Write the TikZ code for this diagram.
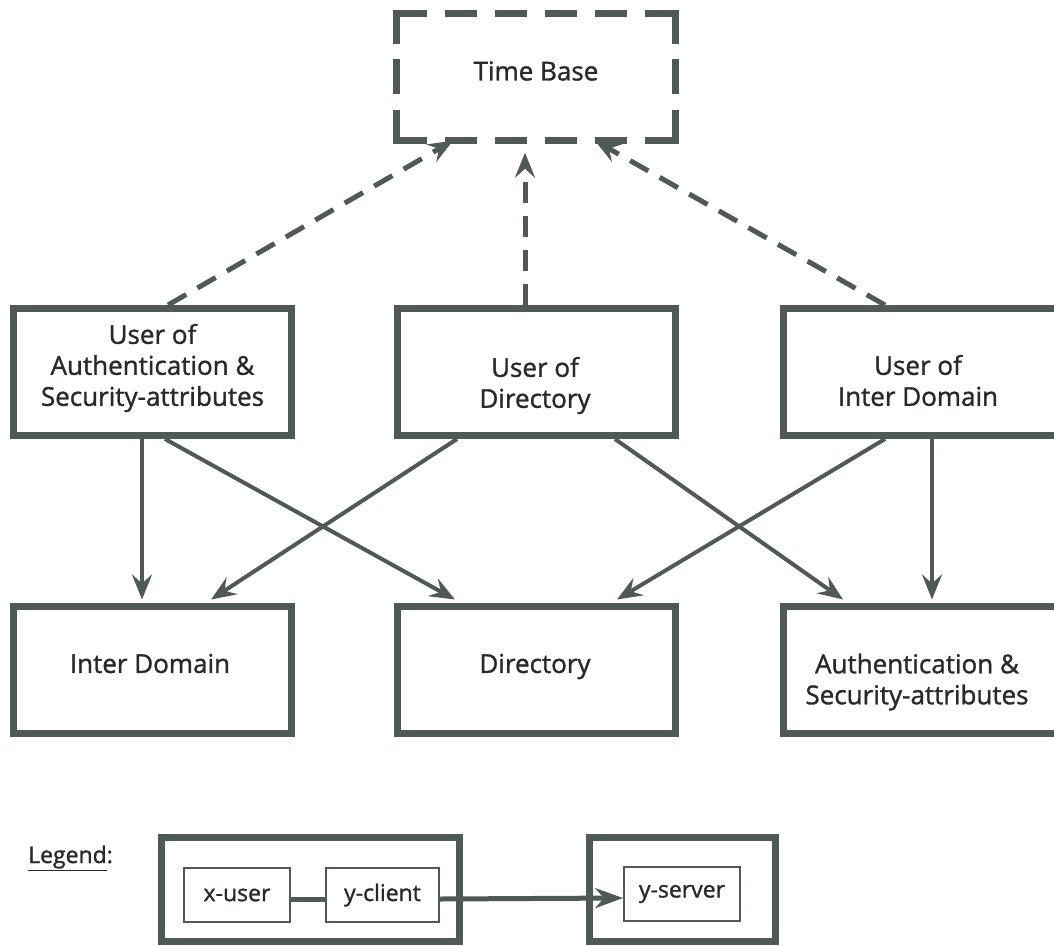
\documentclass[tikz,border=0pt]{standalone}
\usepackage{fontspec}
\setmainfont{Open Sans}
\newfontfamily\diafont{Open Sans}[FakeBold=1.2]
\usetikzlibrary{arrows.meta,calc}
\definecolor{ln}{HTML}{505A55}
\definecolor{tx}{HTML}{262A28}
\newcommand\boxfont{\diafont\fontsize{26pt}{31pt}\selectfont}
\newcommand\legfont{\diafont\fontsize{23pt}{27pt}\selectfont}
\begin{document}
\begin{tikzpicture}[x=1pt,y=-1pt,
  frame/.style={draw=ln, line width=7pt, minimum width=278pt, minimum height=127pt, inner sep=0pt},
  caption/.style={text=tx, font=\boxfont, align=center, inner sep=0pt},
  tbedge/.style={draw=ln, line width=7pt, line cap=butt, line join=miter},
  conn/.style={draw=ln, line width=4pt, -{Stealth[length=25pt,width=20pt,inset=9pt]}},
  dconn/.style={conn, line width=5pt, dash pattern=on 21pt off 13pt},
  legframe/.style={draw=ln, line width=7pt, inner sep=0pt, minimum height=104pt},
  legbox/.style={draw=ln, line width=1.8pt, inner sep=0pt, minimum height=54pt, text=tx, font=\legfont},
  legline/.style={draw=ln, line width=5pt},
]
\useasboundingbox (0,0) rectangle (1054,945);
\clip (0,0) rectangle (1054,945);
\fill[white] (0,0) rectangle (1054,945);

% Time base: dashed frame drawn piece by piece
\node[inner sep=0pt, minimum width=279pt, minimum height=127pt] (tb) at (536,77) {};
\node[caption] (tbt) at (536,71) {Time Base};
\draw[tbedge] ([yshift=-31pt]tb.north west) -- (tb.north west) -- ([xshift=31pt]tb.north west);
\draw[tbedge] ([yshift=-31pt]tb.north east) -- (tb.north east) -- ([xshift=-31pt]tb.north east);
\draw[tbedge] ([yshift=31pt]tb.south west) -- (tb.south west) -- ([xshift=31pt]tb.south west);
\draw[tbedge] ([yshift=31pt]tb.south east) -- (tb.south east) -- ([xshift=-31pt]tb.south east);
\foreach \k in {0,1,2,3} {
  \draw[tbedge] ([xshift={48.8pt+\k*49.8pt}]tb.north west) -- ++(32,0);
  \draw[tbedge] ([xshift={48.8pt+\k*49.8pt}]tb.south west) -- ++(32,0);
}
\draw[tbedge] ([yshift=-46pt]tb.north west) -- ++(0,35);
\draw[tbedge] ([yshift=-46pt]tb.north east) -- ++(0,35);

% upper row: users
\node[frame] (uas) at (152.5,372) {};
\node[frame] (udir) at (536.5,372) {};
\node[frame] (uid) at (922.5,372) {};
\node[caption] (uast) at (152.5,368) {User of\\Authentication \&\\Security-attributes};
\node[caption] (udirt) at (535,385.5) {User of\\Directory};
\node[caption] (uidt) at (918,380.5) {User of\\Inter Domain};

% lower row: services
\node[frame] (id) at (152.5,670) {};
\node[frame] (dir) at (536.5,670) {};
\node[frame] (auth) at (922.5,670) {};
\node[caption] (idt) at (150,663.5) {Inter Domain};
\node[caption] (dirt) at (535,666.5) {Directory};
\node[caption] (autht) at (917,682) {Authentication \&\\Security-attributes};

% users to services
\draw[conn] ([xshift=-10.5pt]uas.south) -- ([xshift=-10.5pt,yshift=3.5pt]id.north);
\draw[conn] ([xshift=12.5pt]uas.south) -- ([xshift=-81.5pt,yshift=3.5pt]dir.north);
\draw[conn] ([xshift=-79.5pt]udir.south) -- ([xshift=58.5pt,yshift=3.5pt]id.north);
\draw[conn] ([xshift=78.5pt]udir.south) -- ([xshift=-79.5pt,yshift=3.5pt]auth.north);
\draw[conn] ([xshift=-37.5pt]uid.south) -- ([xshift=80.5pt,yshift=3.5pt]dir.north);
\draw[conn] ([xshift=9.5pt]uid.south) -- ([xshift=9.5pt,yshift=3.5pt]auth.north);

% users to time base
\draw[dconn] ([xshift=15.5pt]uas.north) -- ([xshift=-83pt]tb.south);
\draw[dconn] ([xshift=-11.5pt]udir.north) -- ([xshift=-11pt,yshift=-12pt]tb.south);
\draw[dconn] ([xshift=-37.5pt]uid.north) -- ([xshift=59pt]tb.south);

% legend
\node[text=tx, font=\legfont, anchor=base west, inner sep=0pt] (leg) at (28,863) {\underline{Legend}:};
\node[legframe, minimum width=298pt] (lb1) at (310.5,889.5) {};
\node[legframe, minimum width=186pt] (lb2) at (682.5,889.5) {};
\node[legbox, minimum width=106pt] (xu) at (237,895) {x-user};
\node[legbox, minimum width=113pt] (yc) at (382.5,895) {y-client};
\node[legbox, minimum width=116pt] (ys) at (682,894) {y-server};
\draw[legline] ([yshift=-4pt]xu.east) -- ([yshift=-4pt]yc.west);
\draw[legline, -{Stealth[length=28pt,width=20pt,inset=9pt]}] ([yshift=-4pt]yc.east) -- ([yshift=-4pt]ys.west);
\end{tikzpicture}
\end{document}
